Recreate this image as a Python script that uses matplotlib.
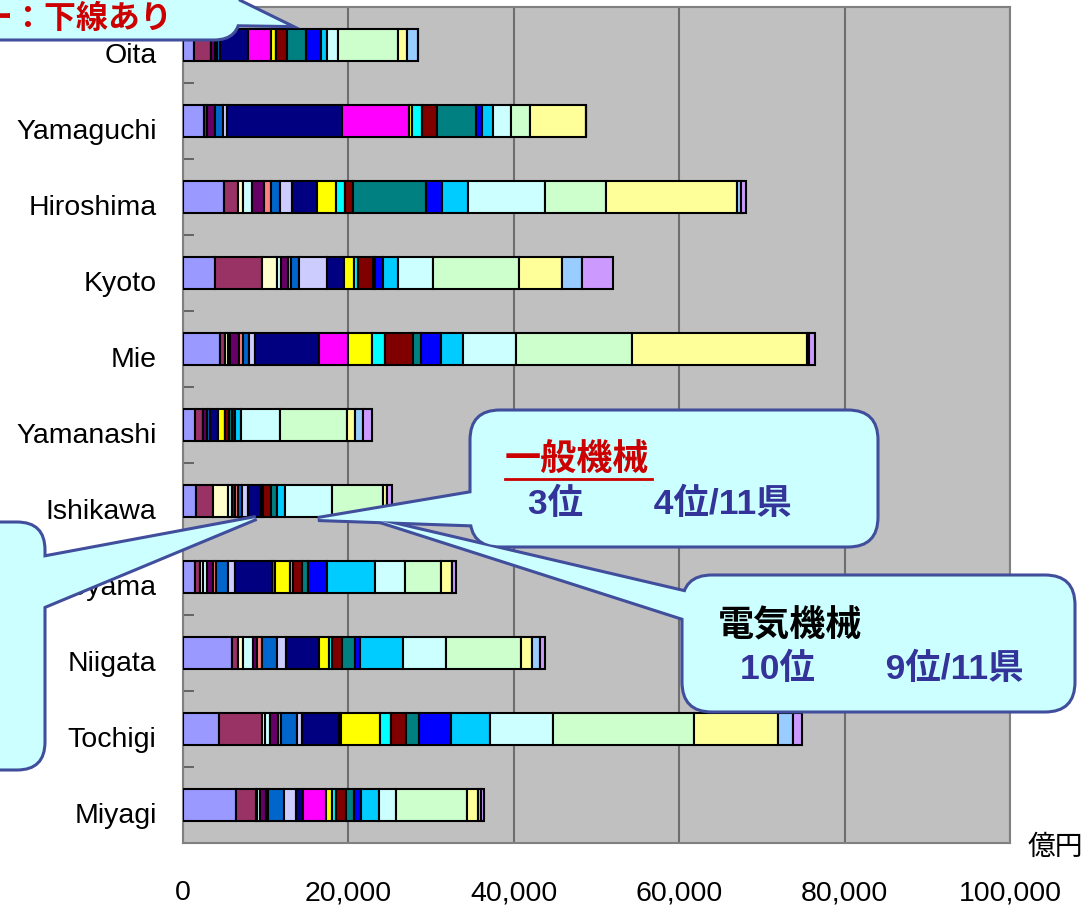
import numpy as np
import matplotlib
matplotlib.use("Agg")
import matplotlib.pyplot as plt
import matplotlib.transforms as mtransforms
from matplotlib.patches import FancyBboxPatch, Polygon
from matplotlib.lines import Line2D

plt.rcParams['font.family'] = ['Liberation Sans', 'Noto Sans CJK JP']

# 県（下から上の順）
prefectures = ['Miyagi', 'Tochigi', 'Niigata', 'Toyama', 'Ishikawa', 'Yamanashi',
               'Mie', 'Kyoto', 'Hiroshima', 'Yamaguchi', 'Oita']

industries = ['食料品', '飲料・たばこ', '繊維', '衣服', '木材', '家具', 'パルプ・紙',
              '出版・印刷', '化学', '石油・石炭', 'プラスチック', 'ゴム', 'なめし革',
              '窯業・土石', '鉄鋼', '非鉄金属', '金属製品', '一般機械', '電気機械',
              '輸送機械', '精密機械', 'その他']
colors = ['#9999FF', '#993366', '#FFFFCC', '#CCFFFF', '#660066', '#FF8080', '#0066CC',
          '#CCCCFF', '#000080', '#FF00FF', '#FFFF00', '#00FFFF', '#800080',
          '#800000', '#008080', '#0000FF', '#00CCFF', '#CCFFFF', '#CCFFCC',
          '#FFFF99', '#99CCFF', '#CC99FF']

# 出荷額（億円）
miyagi    = [6380, 2420, 200, 280, 810, 190, 1940, 1500, 800, 2830, 610, 600, 0, 1210, 880, 930, 2090, 2060, 8630, 1260, 400, 400]
tochigi   = [4380, 5230, 340, 590, 900, 390, 1970, 590, 4440, 240, 4780, 1280, 0, 1830, 1570, 3850, 4780, 7540, 17100, 10160, 1820, 1090]
niigata   = [5930, 730, 610, 1210, 410, 680, 1820, 1050, 4030, 0, 1170, 330, 0, 1280, 1540, 610, 5170, 5200, 9110, 1290, 1000, 610]
toyama    = [1400, 640, 330, 560, 650, 400, 1420, 880, 4440, 400, 1820, 400, 0, 1020, 800, 2300, 5770, 3630, 4360, 1290, 0, 520]
ishikawa  = [1540, 2060, 1820, 480, 400, 400, 410, 800, 1500, 0, 320, 0, 0, 900, 730, 0, 930, 5710, 6240, 410, 0, 600]
yamanashi = [1450, 1010, 0, 0, 420, 0, 360, 0, 1030, 0, 810, 0, 0, 480, 360, 360, 690, 4760, 8070, 1000, 1000, 1090]
mie       = [4420, 640, 350, 240, 1140, 480, 740, 750, 7640, 3550, 2860, 1630, 0, 3400, 980, 2370, 2610, 6500, 14050, 21050, 290, 690]
kyoto     = [3840, 5770, 1770, 530, 800, 330, 970, 3350, 2130, 0, 1210, 410, 0, 1820, 280, 1000, 1820, 4160, 10480, 5130, 2420, 3820]
hiroshima = [4920, 1790, 550, 1030, 1560, 760, 1130, 1480, 3000, 0, 2250, 1110, 0, 990, 8870, 1890, 3130, 9320, 7310, 15860, 580, 550]
yamaguchi = [2500, 360, 0, 0, 970, 0, 1000, 530, 13920, 7990, 480, 1090, 0, 1820, 4720, 800, 1330, 2110, 2340, 6780, 0, 0]
oita      = [1330, 2020, 0, 0, 510, 300, 360, 0, 3380, 2750, 600, 0, 0, 1290, 2300, 1890, 730, 1290, 7300, 1020, 1330, 0]

xticks = [0, 20000, 40000, 60000, 80000, 100000]

values = np.array([miyagi, tochigi, niigata, toyama, ishikawa, yamanashi,
                   mie, kyoto, hiroshima, yamaguchi, oita], dtype=float)

W, H = 1083, 906
fig = plt.figure(figsize=(W / 100, H / 100), dpi=100)
ax = fig.add_axes([183 / W, 1 - 843 / H, (1010 - 183) / W, (843 - 7) / H])
ax.set_facecolor('#C0C0C0')

y = np.arange(len(prefectures))
left = np.zeros(len(prefectures))
for j, name in enumerate(industries):
    ax.barh(y, values[:, j], left=left, height=0.42, color=colors[j],
            edgecolor='black', linewidth=1.5, label=name, zorder=3)
    left += values[:, j]

ax.set_xlim(0, 100000)
ax.set_ylim(-0.5, len(prefectures) - 0.5)
ax.set_xticks(xticks)
ax.set_xticklabels([f'{v:,}' for v in xticks])
ax.xaxis.grid(True, color='#6E6E6E', linewidth=1.5)
ax.set_axisbelow(True)
ax.set_yticks(y)
ax.set_yticklabels(prefectures)
ax.set_yticks(np.arange(-0.5, len(prefectures), 1), minor=True)
ax.tick_params(axis='y', which='major', length=0, pad=19, labelsize=20.5)
ax.tick_params(axis='y', which='minor', direction='in', length=8, color='#555555', width=1.2)
ax.tick_params(axis='x', length=0, pad=27, labelsize=20.5)
for s in ax.spines.values():
    s.set_color('#808080')
    s.set_linewidth(1.5)

# 県名は棒の中心より少し下に表示
shift = mtransforms.ScaledTranslation(0, -8 / 100, fig.dpi_scale_trans)
for t in ax.get_yticklabels():
    t.set_transform(t.get_transform() + shift)

fig.text(1055 / W, 1 - 848 / H, '億円', fontsize=20, ha='center', va='center')

# 吹き出し
tr = fig.dpi_scale_trans
fill, edge, lw = '#CCFFFF', '#404E9C', 2.2


def px(x, yy):
    return (x / 100, (H - yy) / 100)


def callout(x0, y0, x1, y1, tail, r=28):
    pts = [px(*p) for p in tail]
    fig.add_artist(Polygon(pts, closed=True, facecolor=fill, edgecolor=edge,
                           linewidth=2 * lw, transform=tr, zorder=10))
    fig.add_artist(FancyBboxPatch(px(x0, y1), (x1 - x0) / 100, (y1 - y0) / 100,
                                  boxstyle=f'round,pad=0,rounding_size={r / 100}',
                                  facecolor=fill, edgecolor=edge, linewidth=lw,
                                  transform=tr, zorder=11))
    fig.add_artist(Polygon(pts, closed=True, facecolor=fill, edgecolor='none',
                           transform=tr, zorder=12))


def label(x, yy, s, color, size=25.5, ha='left'):
    fig.text(*px(x, yy), s, transform=tr, color=color, fontsize=size,
             fontweight='bold', ha=ha, va='center', zorder=13)


callout(-60, -40, 240, 40, [(222, 24), (232, -2), (287, 25)], r=26)
label(172, 20, 'ー：下線あり', '#CC0000', size=23, ha='right')

callout(470, 410, 878, 547, [(490, 490), (490, 525), (318, 519)], r=30)
label(505, 461, '一般機械', '#CC0000', size=26)
fig.add_artist(Line2D([505 / 100, 652 / 100], [(H - 479) / 100] * 2, color='#CC0000',
                      linewidth=2, transform=tr, zorder=13))
label(528, 504, '3位　　4位/11県', '#333399')

callout(682, 575, 1075, 712, [(705, 597), (705, 625), (380, 521)], r=30)
label(718, 627, '電気機械', 'black', size=26)
label(740, 669, '10位　　9位/11県', '#333399')

callout(-300, 522, 45, 770, [(20, 562), (30, 612), (256, 518)], r=28)

fig.savefig('out.png', dpi=100)
